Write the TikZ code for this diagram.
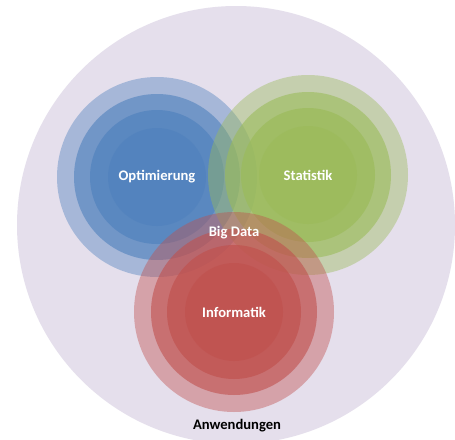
\documentclass[tikz,border=0pt]{standalone}
\usepackage{fontspec}
\setmainfont{Carlito}
\definecolor{appbg}{RGB}{229,223,236}
\definecolor{optblue}{RGB}{79,129,189}
\definecolor{statgreen}{RGB}{155,187,89}
\definecolor{infred}{RGB}{192,80,77}
\tikzset{
  label/.style={text=white, font=\bfseries\fontsize{14.6}{17}\selectfont, inner sep=0pt},
  outerlabel/.style={text=black, font=\bfseries\fontsize{14.6}{17}\selectfont, inner sep=0pt}
}
% a disc built from four translucent concentric layers
\newcommand{\layereddisc}[2]{%
  \foreach \r/\a in {100/0.42,83/0.6,67/0.65,49/0.6}
    \fill[#2, fill opacity=\a] (#1) circle (\r);
}
\begin{document}
\begin{tikzpicture}[x=1pt,y=-1pt]
  \useasboundingbox (0,0) rectangle (455,439);
  \fill[white] (0,0) rectangle (455,439);
  \clip (0,0) rectangle (455,439);
  % field of applications
  \coordinate (app) at (236,225);
  \fill[appbg] (app) circle (219);
  % centres of the three disciplines
  \coordinate (opt) at (157,177);
  \coordinate (stat) at (308,175);
  \coordinate (inf) at (234,312);
  \layereddisc{opt}{optblue}
  \layereddisc{stat}{statgreen}
  \layereddisc{inf}{infred}
  % labels
  \node[label] (optlabel) at (opt) {Optimierung};
  \node[label] (statlabel) at (stat) {Statistik};
  \node[label] (inflabel) at (inf) {Informatik};
  \node[label] (bigdata) at (234,233) {Big Data};
  \node[outerlabel] (anw) at (237,426) {Anwendungen};
\end{tikzpicture}
\end{document}
